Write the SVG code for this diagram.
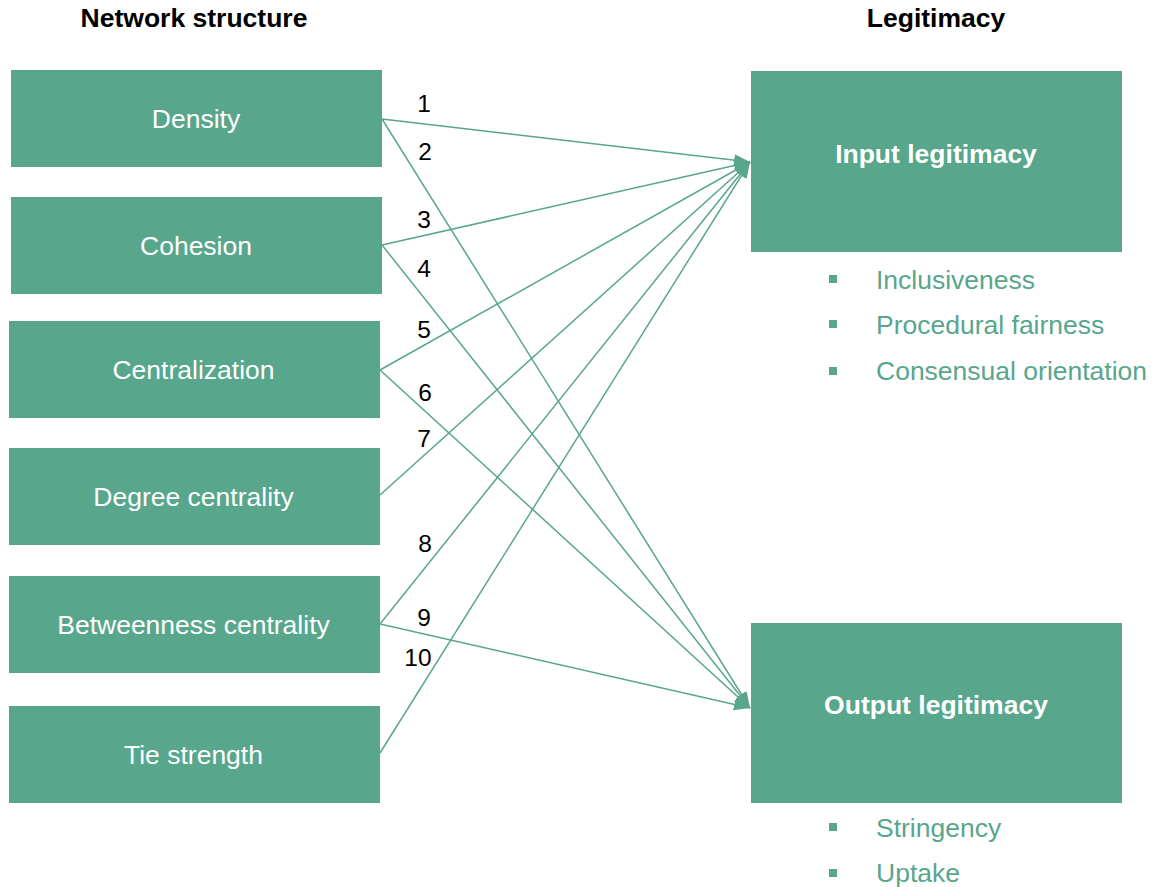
<svg xmlns="http://www.w3.org/2000/svg" width="1153" height="887" viewBox="0 0 1153 887">
  <style>
    .box { fill: #58a68c; }
    .lbl { font-family: "Liberation Sans", Arial, sans-serif; font-size: 26.5px; fill: #ffffff; text-anchor: middle; }
    .bold { font-weight: bold; }
    .hdr { font-family: "Liberation Sans", Arial, sans-serif; font-size: 26.5px; font-weight: bold; fill: #000000; text-anchor: middle; }
    .num { font-family: "Liberation Sans", Arial, sans-serif; font-size: 24.5px; fill: #000000; text-anchor: middle; }
    .item { font-family: "Liberation Sans", Arial, sans-serif; font-size: 26.5px; fill: #58a68c; }
    .bullet { fill: #58a68c; }
    .edge { stroke: #58a68c; stroke-width: 1.5; fill: none; marker-end: url(#arrow); }
  </style>
  <defs>
    <marker id="arrow" markerUnits="userSpaceOnUse" markerWidth="18" markerHeight="14" refX="16" refY="6" orient="auto">
      <path d="M0,0 L16,6 L0,12 z" fill="#58a68c"/>
    </marker>
  </defs>

  <rect width="1153" height="887" fill="#ffffff"/>

  <!-- column headings -->
  <text class="hdr" x="194" y="27">Network structure</text>
  <text class="hdr" x="936" y="27">Legitimacy</text>

  <!-- connectors -->
  <g id="connectors">
    <line class="edge" x1="382" y1="119" x2="750" y2="162"/>
    <line class="edge" x1="382" y1="119" x2="750" y2="708"/>
    <line class="edge" x1="382" y1="245" x2="750" y2="162"/>
    <line class="edge" x1="382" y1="245" x2="750" y2="708"/>
    <line class="edge" x1="380" y1="370" x2="750" y2="162"/>
    <line class="edge" x1="380" y1="370" x2="750" y2="708"/>
    <line class="edge" x1="380" y1="495" x2="750" y2="162"/>
    <line class="edge" x1="380" y1="624" x2="750" y2="162"/>
    <line class="edge" x1="380" y1="624" x2="750" y2="708"/>
    <line class="edge" x1="380" y1="753" x2="750" y2="162"/>
  </g>

  <!-- path numbers -->
  <g id="path-numbers">
    <text class="num" x="424" y="112">1</text>
    <text class="num" x="425" y="160">2</text>
    <text class="num" x="424" y="228">3</text>
    <text class="num" x="424" y="277">4</text>
    <text class="num" x="424" y="338">5</text>
    <text class="num" x="425" y="401">6</text>
    <text class="num" x="424" y="447">7</text>
    <text class="num" x="425" y="552">8</text>
    <text class="num" x="424" y="626">9</text>
    <text class="num" x="418" y="666">10</text>
  </g>

  <!-- network structure nodes -->
  <g id="density">
    <rect class="box" x="11" y="70" width="371" height="97"/>
    <text class="lbl" x="196" y="128">Density</text>
  </g>
  <g id="cohesion">
    <rect class="box" x="11" y="197" width="371" height="97"/>
    <text class="lbl" x="196" y="255">Cohesion</text>
  </g>
  <g id="centralization">
    <rect class="box" x="9" y="321" width="371" height="97"/>
    <text class="lbl" x="193.5" y="379">Centralization</text>
  </g>
  <g id="degree-centrality">
    <rect class="box" x="9" y="448" width="371" height="97"/>
    <text class="lbl" x="193.5" y="506">Degree centrality</text>
  </g>
  <g id="betweenness-centrality">
    <rect class="box" x="9" y="576" width="371" height="97"/>
    <text class="lbl" x="193.5" y="634">Betweenness centrality</text>
  </g>
  <g id="tie-strength">
    <rect class="box" x="9" y="706" width="371" height="97"/>
    <text class="lbl" x="193.5" y="764">Tie strength</text>
  </g>

  <!-- legitimacy nodes -->
  <g id="input-legitimacy">
    <rect class="box" x="751" y="71" width="371" height="181"/>
    <text class="lbl bold" x="936" y="163">Input legitimacy</text>
    <rect class="bullet" x="829" y="275" width="8" height="8"/>
    <text class="item" x="876" y="289">Inclusiveness</text>
    <rect class="bullet" x="829" y="320" width="8" height="8"/>
    <text class="item" x="876" y="334">Procedural fairness</text>
    <rect class="bullet" x="829" y="367" width="8" height="8"/>
    <text class="item" x="876" y="380">Consensual orientation</text>
  </g>
  <g id="output-legitimacy">
    <rect class="box" x="751" y="623" width="371" height="180"/>
    <text class="lbl bold" x="936" y="714">Output legitimacy</text>
    <rect class="bullet" x="829" y="823" width="8" height="8"/>
    <text class="item" x="876" y="837">Stringency</text>
    <rect class="bullet" x="829" y="869" width="8" height="8"/>
    <text class="item" x="876" y="882">Uptake</text>
  </g>
</svg>
